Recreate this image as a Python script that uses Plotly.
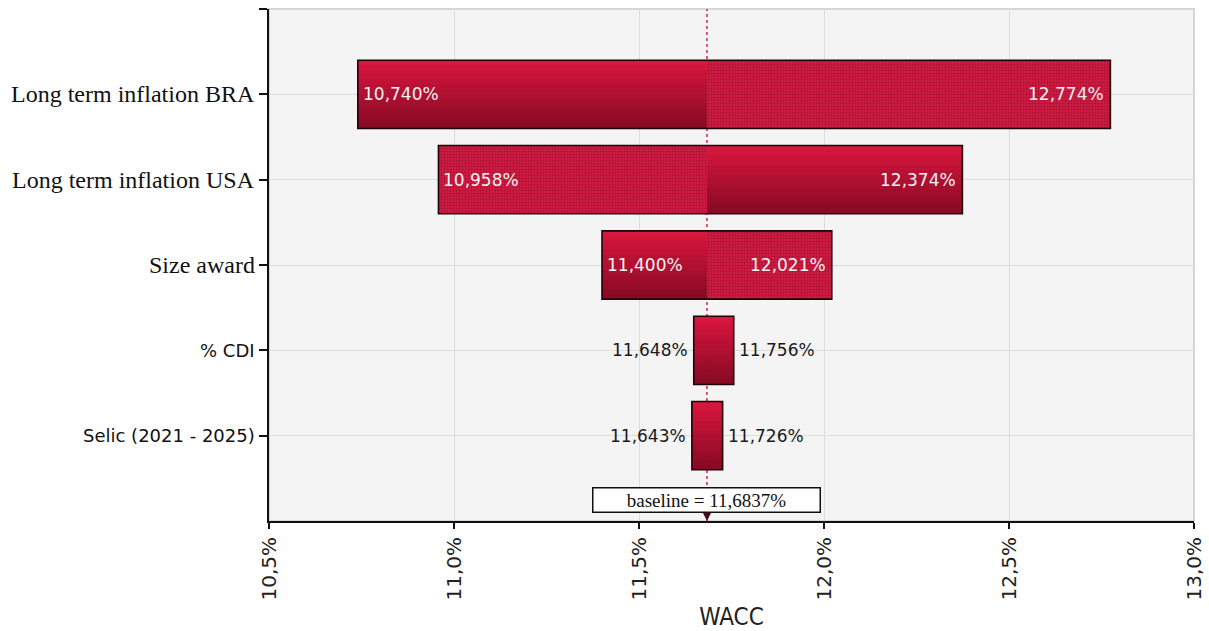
import plotly.graph_objects as go

# ---------------- data ----------------
factors = [
    "Long term inflation BRA",
    "Long term inflation USA",
    "Size award",
    "% CDI",
    "Selic (2021 - 2025)",
]
low_values = [10.740, 10.958, 11.400, 11.648, 11.643]
high_values = [12.774, 12.374, 12.021, 11.756, 11.726]
baseline = 11.6837
low_patterned = [False, True, False, False, False]
high_patterned = [True, False, True, False, False]
x_tick_values = [10.5, 11.0, 11.5, 12.0, 12.5, 13.0]
x_tick_labels = ["10,5%", "11,0%", "11,5%", "12,0%", "12,5%", "13,0%"]
x_title = "WACC"

# ---------------- styles ----------------
SERIF = "Liberation Serif, Times New Roman, serif"
SANS = "DejaVu Sans, Verdana, sans-serif"
label_fonts = [
    dict(family=SERIF, size=24, color="#111"),
    dict(family=SERIF, size=24, color="#111"),
    dict(family=SERIF, size=24, color="#111"),
    dict(family=SANS, size=18, color="#111"),
    dict(family=SANS, size=18, color="#111"),
]
BAR_W = 0.8
N_BANDS = 14
top_rgb = (216, 22, 62)
bot_rgb = (136, 10, 36)


def pct(v, d=3):
    return f"{v:.{d}f}".replace(".", ",") + "%"


def band_color(t):
    r = [round(b + (a - b) * t) for a, b in zip(top_rgb, bot_rgb)]
    return f"rgb({r[0]},{r[1]},{r[2]})"


ypos = list(range(len(factors)))

segments = []
for i in ypos:
    segments.append(dict(y=i, base=low_values[i], length=baseline - low_values[i],
                         pattern=low_patterned[i]))
    segments.append(dict(y=i, base=baseline, length=high_values[i] - baseline,
                         pattern=high_patterned[i]))

solid = [s for s in segments if not s["pattern"]]
patt = [s for s in segments if s["pattern"]]

fig = go.Figure()

# solid segments with a vertical gradient built from stacked bands
for k in range(N_BANDS):
    w = BAR_W * (N_BANDS - k) / N_BANDS
    fig.add_trace(go.Bar(
        orientation="h",
        y=[s["y"] for s in solid],
        x=[s["length"] for s in solid],
        base=[s["base"] for s in solid],
        width=w, offset=-BAR_W / 2,
        marker=dict(color=band_color(k / (N_BANDS - 1)), line=dict(width=0)),
        hoverinfo="skip", showlegend=False,
    ))

# patterned segments
fig.add_trace(go.Bar(
    orientation="h",
    y=[s["y"] for s in patt],
    x=[s["length"] for s in patt],
    base=[s["base"] for s in patt],
    width=BAR_W, offset=-BAR_W / 2,
    marker=dict(color="#d01a42", line=dict(width=0),
                pattern=dict(shape=".", fgcolor="#7a0a22", size=3, solidity=0.3)),
    hoverinfo="skip", showlegend=False,
))

# outline of each whole bar
fig.add_trace(go.Bar(
    orientation="h",
    y=ypos,
    x=[h - l for l, h in zip(low_values, high_values)],
    base=low_values,
    width=BAR_W, offset=-BAR_W / 2,
    marker=dict(color="rgba(0,0,0,0)", line=dict(color="#1e0508", width=1.6)),
    hovertemplate="%{y}<extra></extra>", showlegend=False,
))

annotations = []
# category labels
for i, name in enumerate(factors):
    annotations.append(dict(
        x=0, xref="paper", y=i, yref="y", text=name, showarrow=False,
        xanchor="right", yanchor="middle", xshift=-12, font=label_fonts[i],
    ))

# value labels
INSIDE_MIN = 0.15
for i in ypos:
    lo, hi = low_values[i], high_values[i]
    inside_lo = (baseline - lo) > INSIDE_MIN
    inside_hi = (hi - baseline) > INSIDE_MIN
    annotations.append(dict(
        x=lo, y=i, xref="x", yref="y", text=pct(lo), showarrow=False,
        xanchor="left" if inside_lo else "right", xshift=3 if inside_lo else -4,
        font=dict(family=SANS, size=17, color="#f4f4f4" if inside_lo else "#1a1a1a"),
    ))
    annotations.append(dict(
        x=hi, y=i, xref="x", yref="y", text=pct(hi), showarrow=False,
        xanchor="right" if inside_hi else "left", xshift=-4 if inside_hi else 3,
        font=dict(family=SANS, size=17, color="#f4f4f4" if inside_hi else "#1a1a1a"),
    ))

# baseline box with arrow
annotations.append(dict(
    x=baseline, y=len(factors), xref="x", yref="y",
    text=f"baseline = {pct(baseline, 4)}", showarrow=True,
    ax=0, ay=-21, arrowhead=2, arrowsize=1, arrowwidth=1.6, arrowcolor="#4a0812",
    bgcolor="white", bordercolor="#111", borderwidth=1.5, borderpad=1, width=224,
    font=dict(family=SERIF, size=19, color="#111"),
))

shapes = [
    dict(type="rect", xref="paper", yref="paper", x0=0, x1=1, y0=0, y1=1,
         line=dict(color="#d6d6d6", width=2), layer="below"),
    dict(type="line", xref="x", yref="paper", x0=baseline, x1=baseline, y0=0, y1=1,
         line=dict(color="#d8204a", width=1.5, dash="dot"), layer="between"),
]

fig.update_layout(
    width=1209, height=631,
    margin=dict(l=269, r=15, t=9, b=110),
    paper_bgcolor="white", plot_bgcolor="#f4f4f4",
    barmode="overlay", showlegend=False,
    annotations=annotations, shapes=shapes,
    xaxis=dict(
        range=[10.5, 13.0], tickvals=x_tick_values, ticktext=x_tick_labels,
        tickangle=-90, tickfont=dict(family=SANS, size=20, color="#222"),
        ticklabeloverflow="allow", automargin=False,
        showgrid=True, gridcolor="#dcdcdc", gridwidth=1,
        showline=True, linecolor="#111", linewidth=2,
        ticks="outside", ticklen=6, tickcolor="#111", tickwidth=2,
        zeroline=False,
        title=dict(text=x_title, standoff=10,
                   font=dict(family="DejaVu Sans Condensed, Liberation Sans Narrow, DejaVu Sans",
                             size=24, color="#222")),
    ),
    yaxis=dict(
        range=[len(factors), -1], tickvals=[-1] + ypos, showticklabels=False,
        automargin=False,
        showgrid=True, gridcolor="#dcdcdc", gridwidth=1,
        showline=True, linecolor="#111", linewidth=2,
        ticks="outside", ticklen=8, tickcolor="#111", tickwidth=2,
        zeroline=False,
    ),
)

fig.write_html("out.html")
